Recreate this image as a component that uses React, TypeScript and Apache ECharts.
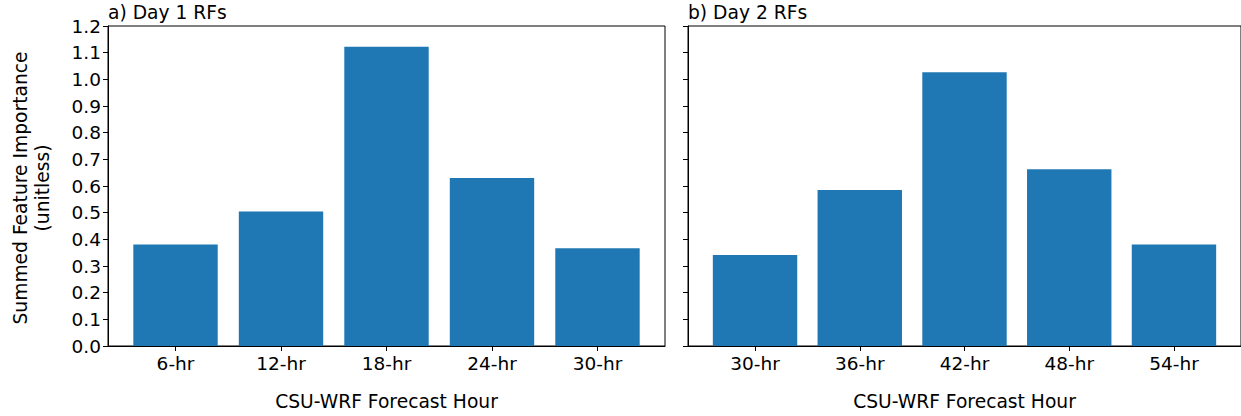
import React, { useEffect, useRef } from "react";
import * as echarts from "echarts";

// Day 1 random forests
const day1Hours = ["6-hr", "12-hr", "18-hr", "24-hr", "30-hr"];
const day1Importance = [0.381, 0.504, 1.122, 0.63, 0.367];

// Day 2 random forests
const day2Hours = ["30-hr", "36-hr", "42-hr", "48-hr", "54-hr"];
const day2Importance = [0.341, 0.585, 1.027, 0.663, 0.381];

const yTicks = [0, 0.1, 0.2, 0.3, 0.4, 0.5, 0.6, 0.7, 0.8, 0.9, 1.0, 1.1, 1.2];
const panelTitles = ["a) Day 1 RFs", "b) Day 2 RFs"];
const xTitle = "CSU-WRF Forecast Hour";
const yTitle = "Summed Feature Importance\n(unitless)";

const FONT = "DejaVu Sans";
const BAR = "#1f77b4";
const POSITIONS = [0, 1, 2, 3, 4];

export default function App() {
  const ref = useRef<HTMLDivElement>(null);

  useEffect(() => {
    document.body.style.margin = "0";
    const chart = echarts.init(ref.current!, null, { renderer: "svg" });

    const grids = [
      { left: 108, top: 26, width: 557, height: 324 },
      { left: 688, top: 26, width: 557, height: 324 },
    ].map((g) => ({ ...g, show: true, borderColor: "#000", borderWidth: 1, backgroundColor: "transparent" }));

    const makeX = (idx: number, cats: string[]) => ({
      type: "value",
      gridIndex: idx,
      min: -0.64,
      max: 4.64,
      name: xTitle,
      nameLocation: "middle",
      nameGap: 46,
      nameTextStyle: { fontFamily: FONT, fontSize: 18.7, color: "#000" },
      axisLine: { show: true, onZero: false, lineStyle: { color: "#000", width: 1 } },
      axisTick: { show: true, inside: false, length: 5, lineStyle: { color: "#000" }, customValues: POSITIONS },
      axisLabel: {
        show: true,
        margin: 8,
        fontFamily: FONT,
        fontSize: 18.5,
        color: "#000",
        customValues: POSITIONS,
        formatter: (v: number) => cats[Math.round(v)] ?? "",
      },
      splitLine: { show: false },
    });

    const makeY = (idx: number, labels: boolean) => ({
      type: "value",
      gridIndex: idx,
      min: 0,
      max: 1.2,
      interval: 0.1,
      axisLine: { show: true, onZero: false, lineStyle: { color: "#000", width: 1 } },
      axisTick: { show: true, inside: false, length: 5, lineStyle: { color: "#000" } },
      axisLabel: {
        show: labels,
        margin: 7,
        fontFamily: FONT,
        fontSize: 18.5,
        color: "#000",
        formatter: (v: number) => {
          const hit = yTicks.find((t) => Math.abs(t - v) < 1e-6);
          return (hit ?? v).toFixed(1);
        },
      },
      splitLine: { show: false },
    });

    const toPairs = (vals: number[]) => vals.map((v, i) => [POSITIONS[i], v]);
    const titleStyle = { fontFamily: FONT, fontSize: 18.7, fontWeight: "normal", color: "#000" };

    chart.setOption({
      animation: false,
      backgroundColor: "#fff",
      title: [
        { text: panelTitles[0], left: 108, top: 3, padding: 0, textStyle: titleStyle },
        { text: panelTitles[1], left: 688, top: 3, padding: 0, textStyle: titleStyle },
      ],
      grid: grids,
      xAxis: [makeX(0, day1Hours), makeX(1, day2Hours)],
      yAxis: [makeY(0, true), makeY(1, false)],
      series: [
        {
          type: "bar",
          xAxisIndex: 0,
          yAxisIndex: 0,
          barWidth: 84.4,
          itemStyle: { color: BAR },
          data: toPairs(day1Importance),
        },
        {
          type: "bar",
          xAxisIndex: 1,
          yAxisIndex: 1,
          barWidth: 84.4,
          itemStyle: { color: BAR },
          data: toPairs(day2Importance),
        },
      ],
      graphic: [
        {
          type: "text",
          x: 31,
          y: 188,
          rotation: Math.PI / 2,
          style: {
            text: yTitle,
            fontFamily: FONT,
            fontSize: 18.7,
            lineHeight: 22,
            fill: "#000",
            align: "center",
            verticalAlign: "middle",
          },
        },
      ],
    });

    return () => chart.dispose();
  }, []);

  return <div ref={ref} style={{ width: 1241, height: 416 }} />;
}
